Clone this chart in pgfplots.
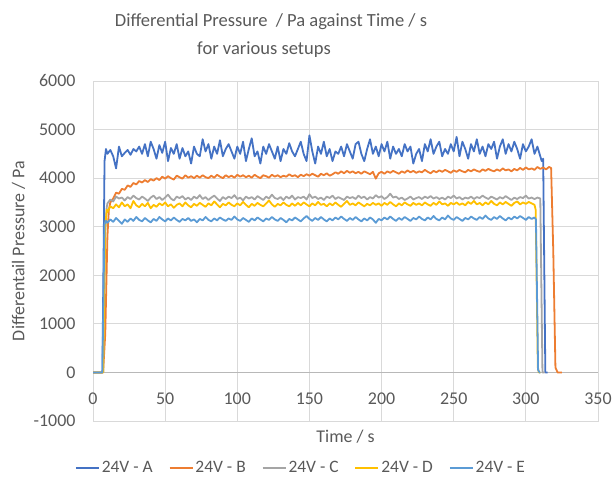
\documentclass[border=0pt]{standalone}
\usepackage{pgfplots}
\pgfplotsset{compat=1.18}
\usepackage{fontspec}
\setmainfont{Carlito}
\definecolor{cA}{HTML}{4472C4}
\definecolor{cB}{HTML}{ED7D31}
\definecolor{cC}{HTML}{A5A5A5}
\definecolor{cD}{HTML}{FFC000}
\definecolor{cE}{HTML}{5B9BD5}
\definecolor{gridc}{HTML}{D9D9D9}
\definecolor{txt}{HTML}{595959}
\begin{document}
\begin{tikzpicture}
\useasboundingbox (0,0) rectangle (612bp,486bp);
\node[font=\fontsize{18.6}{21}\selectfont, text=txt, anchor=base] at (271bp,459bp) {Differential Pressure\ \ / Pa against Time / s};
\node[font=\fontsize{18.6}{21}\selectfont, text=txt, anchor=base] at (264bp,431bp) {for various setups};
\begin{axis}[
  at={(93bp,65bp)}, anchor=south west,
  scale only axis, width=505bp, height=340bp,
  xmin=0, xmax=350, ymin=-1000, ymax=6000,
  xtick={0,50,...,350}, xticklabels={0,50,100,150,200,250,300,350},
  ytick={-1000,0,...,6000}, yticklabels={-1000,0,1000,2000,3000,4000,5000,6000},
  scaled ticks=false,
  major tick length=0pt,
  grid=major,
  grid style={draw=gridc, line width=0.9bp},
  axis line style={draw=gridc, line width=0.9bp},
  extra y ticks={0}, extra y tick labels={},
  extra y tick style={grid style={draw=black!28, line width=0.9bp}},
  tick label style={font=\fontsize{18}{20}\selectfont, text=txt},
  yticklabel style={anchor=east, xshift=-14bp},
  xticklabel style={anchor=north, yshift=48.57bp-17bp},
  xlabel={Time / s},
  ylabel={Differentail Pressure / Pa},
  label style={font=\fontsize{18}{20}\selectfont, text=txt},
  xlabel style={at={(rel axis cs:0.5,0)}, anchor=center, yshift=-16bp},
  ylabel style={at={(rel axis cs:0,0.5)}, anchor=center, yshift=74.5bp},
  legend columns=5,
  legend style={draw=none, fill=none, at={(301bp-93bp,-47bp)}, anchor=center,
    font=\fontsize{17.5}{19}\selectfont, text=txt,
    /tikz/every even column/.append style={column sep=14bp},
    inner sep=0pt, cells={anchor=west}},
  legend image code/.code={\draw[#1, line width=1.8bp] (0bp,0bp) -- (23bp,0bp);},
  every axis plot/.append style={line width=1.8bp, line join=round},
]
\addplot[cA] table {
0 0
6.5 0
8 4350
9 4600
10 4500
12 4580
14 4450
16 4200
18 4650
20 4450
22 4520
24 4580
26 4480
28 4600
30 4550
32 4650
34 4500
36 4700
38 4450
40 4750
42 4600
44 4400
46 4680
48 4520
50 4750
52 4350
54 4620
56 4500
58 4700
60 4400
62 4620
64 4450
66 4550
68 4300
70 4650
72 4500
74 4450
76 4800
78 4550
80 4700
82 4400
84 4650
86 4500
88 4780
90 4450
92 4600
94 4700
96 4550
98 4400
100 4650
102 4500
104 4750
106 4350
108 4600
110 4820
112 4450
114 4550
116 4300
118 4650
120 4500
122 4700
124 4550
126 4400
128 4650
130 4350
132 4600
134 4500
136 4720
138 4550
140 4450
142 4600
144 4750
146 4500
148 4350
150 4880
152 4550
154 4300
156 4650
158 4500
160 4750
162 4450
164 4600
166 4350
168 4550
170 4500
172 4650
174 4450
176 4700
178 4550
180 4400
182 4700
184 4750
186 4500
188 4350
190 4600
192 4800
194 4500
196 4650
198 4450
200 4700
202 4550
204 4750
206 4400
208 4650
210 4500
212 4600
214 4450
216 4700
218 4550
220 4650
222 4300
224 4500
226 4600
228 4350
230 4700
232 4550
234 4800
236 4500
238 4650
240 4750
242 4450
244 4600
246 4500
248 4700
250 4550
252 4850
254 4450
256 4750
258 4600
260 4400
262 4700
264 4550
266 4800
268 4500
270 4650
272 4450
274 4700
276 4600
278 4750
280 4400
282 4650
284 4800
286 4500
288 4700
290 4550
292 4750
294 4600
296 4400
298 4700
300 4550
302 4650
304 4800
306 4500
308 4650
310 4450
311 4350
312 4400
313.5 0
315 0
};
\addlegendentry{24V - A}
\addplot[cB] table {
0 0
7 0
8.5 800
10 2800
11 3350
12 3500
14 3580
16 3700
18 3680
20 3780
22 3760
24 3850
26 3820
28 3900
30 3870
32 3940
34 3910
36 3960
38 3920
40 3980
42 3950
44 4000
46 3960
48 4030
50 3990
52 4040
54 4000
56 3970
58 4050
60 4020
62 3990
64 4060
66 4010
68 4040
70 4000
72 4050
74 4010
76 4060
78 4020
80 4000
82 4050
84 4010
86 4070
88 4030
90 4000
92 4060
94 4020
96 4050
98 4010
100 4070
102 4030
104 4060
106 4020
108 4050
110 4010
112 4070
114 4030
116 4000
118 4060
120 4040
122 4010
124 4070
126 4030
128 4060
130 4020
132 4050
134 4030
136 4080
138 4040
140 4060
142 4020
144 4070
146 4040
148 4080
150 4050
152 4090
154 4060
156 4030
158 4090
160 4060
162 4100
164 4050
166 4080
168 4120
170 4090
172 4140
174 4100
176 4150
178 4110
180 4140
182 4100
184 4130
186 4090
188 4140
190 4110
192 4080
194 4130
196 3990
198 4100
200 4130
202 4090
204 4140
206 4110
208 4150
210 4120
212 4090
214 4140
216 4110
218 4160
220 4120
222 4150
224 4110
226 4140
228 4120
230 4170
232 4130
234 4100
236 4150
238 4120
240 4160
242 4130
244 4170
246 4140
248 4110
250 4160
252 4130
254 4170
256 4140
258 4120
260 4170
262 4140
264 4180
266 4150
268 4130
270 4180
272 4150
274 4190
276 4160
278 4140
280 4180
282 4150
284 4200
286 4160
288 4180
290 4140
292 4190
294 4160
296 4210
298 4170
300 4220
302 4180
304 4200
306 4170
308 4230
310 4190
312 4220
314 4180
316 4230
317.5 4210
319 2500
320.5 100
322 0
325 0
};
\addlegendentry{24V - B}
\addplot[cC] table {
0 0
7 0
8.5 2900
9.5 3400
10 3480
12 3560
14 3520
16 3620
18 3580
20 3600
22 3540
24 3610
26 3570
28 3640
30 3590
32 3560
34 3620
36 3580
38 3530
40 3600
42 3640
44 3570
46 3610
48 3550
50 3600
52 3660
54 3580
56 3540
58 3620
60 3590
62 3630
64 3560
66 3600
68 3550
70 3620
72 3580
74 3650
76 3570
78 3610
80 3550
82 3600
84 3640
86 3580
88 3530
90 3610
92 3570
94 3620
96 3590
98 3650
100 3570
102 3600
104 3540
106 3620
108 3580
110 3610
112 3560
114 3630
116 3590
118 3550
120 3620
122 3580
124 3660
126 3590
128 3570
130 3610
132 3550
134 3620
136 3580
138 3640
140 3560
142 3610
144 3590
146 3620
148 3560
150 3670
152 3590
154 3620
156 3570
158 3600
160 3550
162 3620
164 3590
166 3640
168 3570
170 3610
172 3580
174 3550
176 3620
178 3590
180 3610
182 3570
184 3640
186 3590
188 3620
190 3560
192 3610
194 3580
196 3650
198 3600
200 3630
202 3570
204 3610
206 3680
208 3600
210 3620
212 3570
214 3600
216 3550
218 3580
220 3620
222 3560
224 3590
226 3610
228 3570
230 3620
232 3590
234 3630
236 3580
238 3610
240 3570
242 3600
244 3560
246 3620
248 3590
250 3640
252 3580
254 3610
256 3560
258 3600
260 3580
262 3620
264 3570
266 3610
268 3590
270 3640
272 3600
274 3570
276 3620
278 3590
280 3560
282 3610
284 3580
286 3630
288 3590
290 3550
292 3600
294 3570
296 3610
298 3590
300 3640
302 3580
304 3600
306 3570
308 3600
310 3580
311.5 0
313 0
};
\addlegendentry{24V - C}
\addplot[cD] table {
0 0
7 0
8.5 3000
9.5 3350
10 3300
12 3420
14 3380
16 3460
18 3400
20 3500
22 3420
24 3460
26 3380
28 3530
30 3440
32 3400
34 3470
36 3420
38 3490
40 3380
42 3450
44 3410
46 3480
48 3440
50 3500
52 3420
54 3460
56 3390
58 3450
60 3480
62 3420
64 3500
66 3440
68 3400
70 3470
72 3430
74 3490
76 3450
78 3410
80 3480
82 3440
84 3520
86 3460
88 3400
90 3470
92 3440
94 3500
96 3450
98 3420
100 3480
102 3440
104 3510
106 3450
108 3400
110 3470
112 3430
114 3490
116 3450
118 3420
120 3480
122 3540
124 3460
126 3410
128 3470
130 3440
132 3500
134 3450
136 3420
138 3480
140 3430
142 3490
144 3440
146 3500
148 3460
150 3420
152 3480
154 3440
156 3510
158 3450
160 3470
162 3420
164 3480
166 3440
168 3500
170 3450
172 3410
174 3470
176 3530
178 3450
180 3480
182 3440
184 3500
186 3460
188 3420
190 3470
192 3440
194 3490
196 3450
198 3480
200 3430
202 3490
204 3450
206 3510
208 3460
210 3420
212 3480
214 3440
216 3500
218 3460
220 3430
222 3490
224 3450
226 3480
228 3440
230 3500
232 3460
234 3430
236 3490
238 3450
240 3520
242 3460
244 3480
246 3430
248 3490
250 3460
252 3500
254 3450
256 3480
258 3440
260 3510
262 3470
264 3530
266 3460
268 3490
270 3440
272 3500
274 3460
276 3530
278 3470
280 3440
282 3500
284 3460
286 3510
288 3470
290 3430
292 3490
294 3520
296 3460
298 3500
300 3470
302 3510
304 3480
306 3450
306.8 3350
308.3 100
309 0
310 0
};
\addlegendentry{24V - D}
\addplot[cE] table {
0 0
6.5 0
8 3050
9 3120
10 3080
12 3150
14 3100
16 3180
18 3120
20 3060
22 3150
24 3100
26 3170
28 3120
30 3200
32 3140
34 3110
36 3180
38 3130
40 3090
42 3160
44 3120
46 3200
48 3150
50 3110
52 3170
54 3130
56 3190
58 3140
60 3100
62 3160
64 3130
66 3180
68 3120
70 3150
72 3090
74 3160
76 3130
78 3200
80 3140
82 3110
84 3170
86 3130
88 3190
90 3150
92 3120
94 3170
96 3140
98 3210
100 3150
102 3120
104 3180
106 3140
108 3100
110 3170
112 3130
114 3190
116 3150
118 3110
120 3170
122 3140
124 3200
126 3150
128 3120
130 3180
132 3140
134 3090
136 3160
138 3130
140 3190
142 3150
144 3110
146 3170
148 3220
150 3160
152 3120
154 3180
156 3140
158 3200
160 3150
162 3110
164 3170
166 3130
168 3190
170 3150
172 3210
174 3160
176 3120
178 3180
180 3140
182 3200
184 3150
186 3110
188 3170
190 3130
192 3190
194 3150
196 3080
198 3160
200 3130
202 3190
204 3150
206 3210
208 3160
210 3120
212 3180
214 3140
216 3200
218 3160
220 3120
222 3180
224 3150
226 3210
228 3160
230 3130
232 3190
234 3150
236 3220
238 3160
240 3130
242 3190
244 3150
246 3230
248 3170
250 3140
252 3200
254 3160
256 3120
258 3180
260 3150
262 3210
264 3170
266 3140
268 3200
270 3160
272 3230
274 3170
276 3140
278 3200
280 3160
282 3220
284 3170
286 3130
288 3190
290 3150
292 3210
294 3170
296 3220
298 3180
300 3140
302 3200
304 3160
306 3190
307 3150
308.5 50
309.5 0
310 0
};
\addlegendentry{24V - E}
\end{axis}
\end{tikzpicture}
\end{document}
